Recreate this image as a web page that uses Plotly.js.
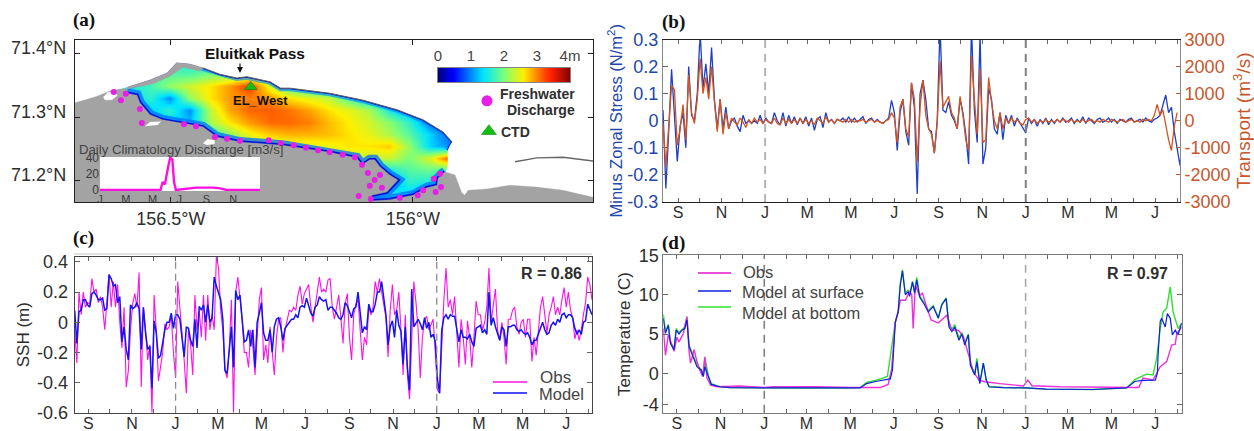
<!DOCTYPE html>
<html><head><meta charset="utf-8">
<script src="https://cdn.plot.ly/plotly-3.0.1.min.js"></script>
<style>html,body{margin:0;padding:0;background:#fff}#g{width:1254px;height:431px}</style>
</head><body><div id="g"></div>
<script>
// ---------- shared month ticks (days since first 1 January) ----------
const monthDays=[-122,-92,-61,-31,0,31,59,90,120,151,181,212,243,273,304,334,365,396,424,455,485,516,546,577];
const monthText=['S','','N','','J','','M','','M','','J','','S','','N','','J','','M','','M','','J',''];
const yearStarts=[0,365];

// ---------- panel (a): map ----------
const gridLon=[-156.585,-156.543,-156.502,-156.461,-156.419,-156.378,-156.337,-156.295,-156.254,-156.213,-156.172,-156.130,-156.089,-156.048,-156.006,-155.965,-155.924];
const gridLat=[71.160,71.179,71.198,71.217,71.236,71.255,71.274,71.293,71.312,71.330,71.349,71.368,71.387];
const depth=[
[1,1,1,1,1,1,1,1,1,1,1,1,.8,.9,.9,.6,.6],
[1,1,1,1,1,1,1,1,1,1,1,1,1,1.5,1.3,.7,.6],
[1,1,1,1,1,1,1,1,1,1,1,1,1,1,1.6,1.5,1],
[1.2,1.2,1.2,1.2,1.2,1.2,1.2,1.2,1.2,1.2,1.2,1.2,1.2,1.5,1.8,1.9,1.7],
[2,2,2,2,2,2,2,2,2.2,2.2,2.2,2.3,2.3,2.3,2,2.4,3.2],
[2,2,2,2,2,2,2.2,2.3,2.4,2.4,2.5,2.6,2.6,2.7,2.1,1.3,1],
[1.5,1.5,1.5,1.5,1.6,2.1,2.5,2.7,2.8,2.8,2.75,2.6,2.45,2.2,1.8,1.3,.8],
[1.2,1.2,1.4,1.2,2.2,2.6,2.9,3.1,3.1,3,2.75,2.55,2.35,2.05,1.6,.9,.8],
[1.2,1.3,1.6,1,2.3,2.85,3.1,3.15,3.05,2.85,2.6,2.45,2.2,1.5,1,.8,.8],
[1.4,1.6,1,2.1,2.6,2.9,3,2.9,2.6,2.45,2.3,1.8,1.2,1,1,1,1],
[1.5,1.7,2.1,2.35,2.6,2.9,3.3,2.4,1.8,1.5,1.3,1.2,1.2,1.2,1.2,1.2,1.2],
[1.5,1.7,1.8,1.8,2,2,2.2,1.8,1.5,1.2,1.2,1.2,1.2,1.2,1.2,1.2,1.2],
[1.5,1.5,1.5,1.5,1.5,1.5,1.5,1.2,1.2,1.2,1.2,1.2,1.2,1.2,1.2,1.2,1.2]];
const jet=[[0,'#00007f'],[.11,'#0000ff'],[.34,'#00e5ff'],[.5,'#7dff7a'],[.64,'#fff000'],[.75,'#ff8000'],[.85,'#ff2000'],[1,'#7f0000']];
const rampValues=[0,.25,.5,.75,1,1.25,1.5,1.75,2,2.25,2.5,2.75,3,3.25,3.5,3.75,4];
const rampRows=[0,1];
const rampTickText=['0','1','2','3','4m'];
const rampTickVals=[0,1,2,3,4];

const northLon=[-156.589,-156.543,-156.508,-156.488,-156.461,-156.434,-156.399,-156.364,-156.343,-156.295,-156.273,-156.254,-156.172,-156.103,-156.033,-155.979,-155.938,-155.919,-155.924,-155.928];
const northLat=[71.348,71.359,71.370,71.386,71.384,71.378,71.368,71.362,71.364,71.356,71.346,71.346,71.338,71.327,71.312,71.296,71.277,71.261,71.255,71.248];
const oceanEndLon=[-155.928,-155.932,-155.890,-155.628,-155.628,-156.698,-156.698];
const oceanEndLat=[71.225,71.213,71.170,71.166,71.422,71.422,71.323];
const southLon=[-156.591,-156.570,-156.564,-156.543,-156.517,-156.475,-156.434,-156.405,-156.357,-156.269,-156.172,-156.116,-156.105,-156.089,-156.079,-156.068,-156.048,-156.031,-156.054,-156.085,-156.089,-156.048,-156.000,-155.971,-155.950,-155.948,-155.938,-155.934];
const southLat=[71.338,71.335,71.323,71.304,71.296,71.291,71.285,71.269,71.261,71.256,71.245,71.236,71.225,71.233,71.233,71.222,71.209,71.201,71.182,71.177,71.168,71.170,71.177,71.189,71.193,71.204,71.212,71.214];
const westCoastLon=[-156.698,-156.657,-156.620,-156.591];
const westCoastLat=[71.323,71.332,71.343,71.346];
const eastCoastLon=[-155.913,-155.907,-155.899,-155.893,-155.886,-155.847,-155.800,-155.744,-155.690,-155.628,-155.628,-156.698];
const eastCoastLat=[71.209,71.196,71.181,71.177,71.185,71.187,71.193,71.190,71.185,71.174,71.166,71.166];
const spitLon=[-156.589,-156.543,-156.508,-156.488,-156.461,-156.434,-156.440,-156.475,-156.502,-156.537,-156.589];
const spitLat=[71.348,71.359,71.370,71.386,71.384,71.378,71.373,71.379,71.365,71.353,71.345];
const lakeLons=[[-156.640,-156.630,-156.614,-156.610,-156.622,-156.636],[-156.554,-156.543,-156.519,-156.527],[-156.434,-156.424,-156.409,-156.409,-156.424]];
const lakeLats=[[71.332,71.340,71.340,71.334,71.327,71.327],[71.286,71.293,71.294,71.288],[71.259,71.266,71.264,71.258,71.256]];
const islandLon=[-155.789,-155.744,-155.690,-155.628];
const islandLat=[71.230,71.236,71.237,71.231];
const dischargeLon=[-156.618,-156.603,-156.593,-156.564,-156.560,-156.473,-156.448,-156.409,-156.384,-156.357,-156.298,-156.273,-156.246,-156.221,-156.196,-156.172,-156.145,-156.120,-156.105,-156.093,-156.068,-156.079,-156.089,-156.064,-156.112,-156.087,-156.027,-155.990,-155.979,-155.953,-155.942,-155.957,-155.944];
const dischargeLat=[71.340,71.327,71.337,71.313,71.291,71.289,71.286,71.269,71.266,71.263,71.264,71.259,71.256,71.252,71.248,71.245,71.241,71.237,71.225,71.212,71.209,71.201,71.192,71.189,71.176,71.171,71.173,71.177,71.185,71.182,71.190,71.203,71.211];
const ctdLon=[-156.335], ctdLat=[71.348];
const keyDotLon=[-155.847], keyDotLat=[71.326];
const keyTriLon=[-155.843], keyTriLat=[71.278];

// inset: daily climatology discharge
const climDay=[0,138,143,148,156,160,165,169,173,190,220,259,274,289,365];
const climQ=[0,0,10,7,30,40,38,10,0,1,3,3,2,0,0];
const climTickDay=[0,59,120,181,243,304];
const climTickText=['J','M','M','J','S','N'];

// ---------- panel (b): sampled every 4 days from day -143 ----------
const bStart=-143,bStep=4;
const stress=[.04,-.25,-.04,.19,.02,-.15,-.02,.03,-.1,.2,.02,0,.1,.33,.12,.21,.1,.27,.08,-.03,.08,-.03,.05,-.03,0,.01,-.02,-.04,.02,-.01,0,-.01,0,-.01,.02,-.01,.01,-.005,-.01,.03,0,-.015,.03,-.02,.02,-.01,.015,-.015,.01,-.01,.015,-.02,.01,-.035,.005,.015,-.025,.03,-.005,.005,-.01,.005,0,.01,-.005,.015,-.005,.01,-.005,.005,.015,-.01,.005,.01,-.005,.005,-.005,-.01,0,.01,.075,.03,-.11,.03,.08,-.04,-.09,.14,.05,-.27,.1,.15,.08,-.03,-.04,-.12,0,.35,.04,.03,.07,.02,0,-.03,.08,.03,-.05,-.16,.35,.04,-.08,.32,-.16,-.1,.12,.08,-.03,-.05,.03,-.07,.02,-.01,.02,-.02,.01,-.01,-.03,-.045,.01,-.01,.005,-.02,.005,-.01,.01,-.015,.005,-.01,.005,-.005,.01,-.005,0,.01,-.01,.005,-.005,.015,-.01,.01,0,-.01,.005,.01,-.005,0,.01,-.005,.005,-.01,.005,0,-.005,.005,.01,-.005,0,.005,-.005,.01,0,-.005,.005,.01,.02,.06,.095,.03,.05,-.04,-.1,-.165,-.05,0];
const transport=[-100,-1700,-200,1300,1150,-900,-300,600,-700,1700,300,-100,800,2300,1000,1600,800,2000,700,-400,800,-500,300,-300,100,-50,-150,100,-50,-250,50,-100,100,-50,50,-100,50,-50,-100,100,-100,-150,100,-100,50,-100,50,-100,100,-100,50,-100,0,-150,100,0,-100,150,-50,50,-100,50,0,-50,50,-50,50,-50,0,0,50,-50,0,50,-50,0,-50,-100,0,50,300,100,-800,500,800,-300,-600,1400,800,-1500,500,1500,200,-300,-500,-1200,-100,2200,500,700,900,300,100,-300,900,200,-700,-1100,2400,800,-500,1900,-800,-700,1600,700,0,-300,300,-300,100,-100,100,-50,50,-100,-150,50,100,-50,50,-100,0,-50,50,-50,0,-50,50,-50,50,0,-50,50,-50,0,-50,50,-50,0,50,-50,0,-50,50,0,-50,50,0,-50,0,50,-50,0,50,-50,0,-50,50,0,50,0,200,600,200,400,-200,-700,-1100,-200,300];

// ---------- panel (c): sampled every 3 days from day -141 ----------
const cStart=-141,cStep=3;
const sshObs=[-.05,-.27,.2,.05,.2,.1,.13,.12,.29,.2,.22,.13,.17,.1,-.05,.12,.32,.1,.27,.1,.25,0,-.17,.1,-.43,-.32,-.05,.12,.19,.1,.33,-.43,.1,-.05,-.25,-.15,-.6,.18,-.05,-.39,-.3,-.2,-.01,-.05,-.03,.04,-.2,-.37,.27,.1,-.1,-.25,-.47,-.05,-.15,-.35,.18,-.05,.08,-.1,.18,-.12,.18,-.05,.05,-.05,.44,.36,.08,-.05,-.32,-.37,-.18,.15,-.6,.2,.3,.15,.02,-.2,-.2,-.3,-.05,-.16,-.35,-.1,.15,.23,-.25,-.15,-.27,-.03,-.2,-.35,-.1,.02,.03,-.2,-.05,.02,.08,.07,.1,.08,.18,.24,.12,.19,.22,.25,.1,0,.1,.2,.3,.2,.22,.2,.28,.29,.1,.02,.1,.18,.03,-.14,.12,.19,-.1,-.25,.05,.12,.15,-.05,-.25,-.1,-.15,.1,.05,.1,.27,.2,.29,.2,.12,.03,-.23,.08,.25,.05,.08,.2,-.05,-.35,.05,-.35,-.51,-.05,.27,.13,-.05,-.37,-.1,.02,.04,-.05,-.02,.02,-.2,-.45,-.47,-.1,.15,.36,.1,.15,.05,.17,-.05,-.3,.02,-.1,-.28,.01,-.1,-.3,-.1,.14,.05,.05,-.05,0,.1,.36,0,.1,.22,-.05,-.12,0,-.1,-.28,.02,.02,.08,.1,-.03,-.08,0,.02,-.1,.02,.02,-.26,-.1,-.22,-.05,.1,.17,.05,-.07,.05,.1,.17,.05,.1,.05,.15,.23,.1,.2,.08,.03,-.11,-.05,-.12,-.05,.05,.13,.3,.25,.15];
const sshModel=[.08,-.14,.07,.08,.15,.15,.115,.10,.19,.20,.18,.15,.15,.16,.08,.09,.315,.29,.24,.25,.13,.17,-.13,-.03,-.18,-.25,.115,.09,.10,.13,.09,-.18,.10,-.07,-.18,-.16,-.44,.01,-.07,-.24,-.22,-.12,-.05,0,0,.06,-.04,.05,.05,.02,-.1,-.23,-.03,-.04,-.12,-.16,.02,-.17,.105,.08,.115,0,.115,0,.03,.30,.24,.2,.15,.02,-.32,-.34,-.16,-.03,-.3,.21,.15,.18,.02,-.13,-.12,-.05,-.16,-.05,-.3,0,.06,.13,-.07,-.12,-.12,-.05,-.2,-.03,.02,.03,-.03,-.12,-.04,-.02,0,.02,.02,.05,.03,.10,.11,.10,.16,.115,.06,.04,.10,.115,.17,.15,.14,.15,.08,.10,.10,.08,.06,.03,.02,.05,.13,.11,.07,.03,.09,.10,.2,.04,-.07,-.03,-.05,.12,.07,.07,.12,.2,.2,.27,.17,.05,-.15,-.03,.01,-.1,.08,-.02,-.06,-.28,-.03,-.3,-.45,.22,-.03,0,.02,-.01,-.05,.03,-.04,0,-.1,-.08,-.13,-.38,-.47,-.05,.03,.05,.02,.05,.04,.04,-.05,-.13,-.05,-.1,-.1,-.11,-.08,-.13,-.16,-.04,-.03,-.02,-.07,-.05,-.08,.2,-.02,.03,-.03,-.08,-.12,-.03,-.05,-.16,-.03,-.03,-.02,-.02,-.05,-.06,-.05,-.07,-.08,-.07,-.1,-.15,-.12,-.12,-.08,-.03,0,-.05,-.08,-.07,-.02,0,-.02,.02,0,.05,.06,.03,.05,.05,.03,-.04,-.08,-.05,-.08,0,.01,.12,.08,.05];

// ---------- panel (d): read at turning points ----------
const surfDay=[-141,-138,-134,-131,-126,-123,-119,-115,-111,-108,-105,-99,-94,-88,-85,-83,-78,-74,-62,-48,0,50,120,134,143,157,176,179,183,187,190,193,197,201,203,207,210,213,217,224,229,236,243,248,254,258,262,266,272,276,280,285,288,294,297,301,306,310,314,334,366,394,459,506,518,529,546,549,550,553,555,560,563,567,570,574,578,583];
const surfT=[7,5.1,6.1,3.8,3,5.5,5,5.5,5.7,6.8,3.4,1.9,.85,.4,-.4,.85,-.4,-1.4,-1.7,-1.8,-1.85,-1.85,-1.85,-1.85,-1.3,-1,-.7,.4,6.5,7.8,11.2,13,10,10.4,9.8,11.6,10.2,11.9,9.7,8.7,7.8,8.5,7,8.7,9.5,5.9,5.3,5.9,4.2,5,3.6,4.9,1,-.2,1.5,-1.3,1.3,-.85,-1.7,-1.8,-1.85,-2,-2.05,-1.85,-1,-.9,-.85,0,2.3,6.6,7,5.9,7.6,7,4.9,5.5,4.9,6.4];
const botDay=[-141,-138,-134,-131,-126,-123,-119,-115,-111,-108,-105,-99,-94,-88,-85,-83,-78,-74,-62,-48,0,50,120,134,143,157,172,179,183,187,190,193,197,201,203,207,210,213,217,224,229,236,243,248,254,258,262,266,272,276,280,285,288,294,297,301,306,310,314,334,366,394,459,506,518,534,543,548,553,557,562,567,571,578,583];
const botT=[7.5,5.3,6.2,4,3.1,5.7,5.2,5.6,5.9,7.2,3.6,2.2,1.1,.5,-.2,2,-.3,-1.3,-1.7,-1.8,-1.85,-1.85,-1.85,-1.8,-1.15,-.85,-.4,4.2,6.5,7.9,11.5,13.2,10.2,10.6,10,11.7,10.4,12.2,9.9,8.9,8,8.6,7.1,8.8,9.6,6.2,5.6,6.2,4.5,5.2,3.9,5,1.1,0,1.9,-1.2,1.3,-.85,-1.7,-1.8,-1.85,-2,-2.05,-1.85,-.75,-.1,-.2,1.9,5.7,7.8,8.3,11,7.8,5.7,6.4];
const obsDay=[-141,-138,-134,-129,-126,-122,-119,-113,-108,-105,-103,-98,-94,-90,-86,-83,-80,-75,-66,-34,0,12,73,120,134,162,173,178,183,187,190,197,203,206,208,211,217,221,226,233,243,255,262,271,278,285,292,300,308,329,362,368,374,413,506,523,529,543,553,562,569,574,576,583];
const obsT=[5.7,2.3,4.9,3.6,2.8,4.6,4,5.1,7.2,2.8,1.3,3,1.5,.4,-.4,2.1,-.6,-1.5,-1.7,-1.6,-1.8,-1.7,-1.7,-1.8,-1.8,-1.8,-1.4,.6,6.5,7.8,9.3,9.3,10.4,10,5.7,11.2,9.9,10.2,8.7,6.8,6.4,7.4,5.5,5.5,4.7,2.3,.2,-.85,-1.06,-1.3,-1.6,-.85,-1.57,-1.7,-1.8,-1.8,-.6,-.85,.85,1.5,3.6,3.7,5,5.9];

// ---------- layout helpers (page pixels to layout fractions) ----------
const W=1254,H=431;
const dx=(l,r)=>[l/W,r/W], dy=(t,b)=>[1-b/H,1-t/H];
const px=x=>x/W, py=y=>1-y/H;
const seq=(s,st,n)=>Array.from({length:n},(_,i)=>s+i*st);
const TXT='Liberation Sans, Arial, sans-serif';
const grey='#444', ink='#2e2e2e', land='#a3a3a3';
const BLUE='#2247a8', ORANGE='#c9562b';

const traces=[];
const mapT=(o)=>traces.push(Object.assign({type:'scatter',mode:'lines',xaxis:'x',yaxis:'y',hoverinfo:'skip',showlegend:false},o));

traces.push({type:'heatmap',x:gridLon,y:gridLat,z:depth,zmin:0,zmax:4,zsmooth:'best',colorscale:jet,showscale:false,xaxis:'x',yaxis:'y',hoverinfo:'skip'});
// blue shallow edges under the land and ocean masks
mapT({x:northLon,y:northLat,line:{color:'rgba(0,130,255,.6)',width:6}});
mapT({x:southLon,y:southLat,line:{color:'rgba(0,110,255,.75)',width:10}});
mapT({x:northLon,y:northLat,line:{color:'#0018e0',width:2}});
mapT({x:southLon,y:southLat,line:{color:'#0010d8',width:3.5}});
// ocean and land masks
mapT({x:northLon.concat(oceanEndLon),y:northLat.concat(oceanEndLat),fill:'toself',fillcolor:'#fff',line:{color:'rgba(0,0,0,0)',width:0}});
mapT({x:westCoastLon.concat(southLon,eastCoastLon),y:westCoastLat.concat(southLat,eastCoastLat),fill:'toself',fillcolor:land,line:{color:land,width:.3}});
mapT({x:spitLon,y:spitLat,fill:'toself',fillcolor:land,line:{color:land,width:.5}});
mapT({x:northLon.slice(5,18),y:northLat.slice(5,18),line:{color:'#5a5a5a',width:1}});
lakeLons.forEach((l,i)=>mapT({x:l,y:lakeLats[i],fill:'toself',fillcolor:'#fff',line:{color:'#888',width:.3}}));
mapT({x:islandLon,y:islandLat,line:{color:'#666',width:1.4}});
mapT({x:dischargeLon,y:dischargeLat,mode:'markers',marker:{color:'#e61ee6',size:6,line:{width:0}}});
mapT({x:ctdLon,y:ctdLat,mode:'markers',marker:{symbol:'triangle-up',color:'#10c010',size:11,line:{width:.5,color:'#0a6a0a'}}});
mapT({x:keyDotLon,y:keyDotLat,mode:'markers',marker:{color:'#e61ee6',size:11,line:{width:0}}});
mapT({x:keyTriLon,y:keyTriLat,mode:'markers',marker:{symbol:'triangle-up',color:'#10c010',size:13,line:{width:.5,color:'#0a6a0a'}}});

// depth colour ramp
traces.push({type:'heatmap',x:rampValues,y:rampRows,z:[rampValues,rampValues],zmin:0,zmax:4,zsmooth:'best',colorscale:jet,showscale:false,xaxis:'x7',yaxis:'y7',hoverinfo:'skip'});

// inset
traces.push({type:'scatter',mode:'lines',x:[0,365,365,0],y:[-1.2,-1.2,41,41],fill:'toself',fillcolor:'#fff',line:{width:0},xaxis:'x5',yaxis:'y5',hoverinfo:'skip',showlegend:false});
traces.push({type:'scatter',mode:'lines',x:climDay,y:climQ,line:{color:'#ff10e0',width:2.4,shape:'linear'},xaxis:'x5',yaxis:'y5',hoverinfo:'skip',showlegend:false});

// panel b
traces.push({type:'scatter',mode:'lines',x:seq(bStart,bStep,stress.length),y:stress,line:{color:'#1f3fc4',width:1.3},xaxis:'x2',yaxis:'y2',name:'Minus Zonal Stress',showlegend:false});
traces.push({type:'scatter',mode:'lines',x:seq(bStart,bStep,transport.length),y:transport,line:{color:'#d5531d',width:1.3},xaxis:'x2',yaxis:'y6',name:'Transport',showlegend:false});
// panel c
traces.push({type:'scatter',mode:'lines',x:seq(cStart,cStep,sshObs.length),y:sshObs,line:{color:'#ff10e8',width:1.1},xaxis:'x3',yaxis:'y3',name:'Obs',showlegend:false});
traces.push({type:'scatter',mode:'lines',x:seq(cStart,cStep,sshModel.length),y:sshModel,line:{color:'#1414f0',width:1.5},xaxis:'x3',yaxis:'y3',name:'Model',showlegend:false});
// panel d
traces.push({type:'scatter',mode:'lines',x:botDay,y:botT,line:{color:'#30e030',width:1.4},xaxis:'x4',yaxis:'y4',name:'Model at bottom',showlegend:false});
traces.push({type:'scatter',mode:'lines',x:obsDay,y:obsT,line:{color:'#ee30dc',width:1.4},xaxis:'x4',yaxis:'y4',name:'Obs',showlegend:false});
traces.push({type:'scatter',mode:'lines',x:surfDay,y:surfT,line:{color:'#1020e0',width:1.2},xaxis:'x4',yaxis:'y4',name:'Model at surface',showlegend:false});

const monthAxis=(dom,anchor,range,lineCol)=>({domain:dom,anchor,range,tickmode:'array',tickvals:monthDays,ticktext:monthText,ticks:'inside',ticklen:4,tickcolor:'#666',tickwidth:1,mirror:'ticks',showline:true,linecolor:lineCol,linewidth:1,showgrid:false,zeroline:false,tickfont:{family:TXT,size:16,color:ink},ticklabelstandoff:-4,automargin:false});
const valAxis=(dom,anchor,range,vals,text,color,lineCol)=>({domain:dom,anchor,range,tickmode:'array',tickvals:vals,ticktext:text,ticks:'inside',ticklen:5,tickcolor:'#666',tickwidth:1,mirror:'ticks',showline:true,linecolor:lineCol,linewidth:1,showgrid:false,zeroline:false,tickfont:{family:TXT,size:18,color},automargin:false});

const layout={
 width:W,height:H,margin:{l:0,r:0,t:0,b:0},paper_bgcolor:'#fff',plot_bgcolor:'#fff',showlegend:false,
 // map
 xaxis:{domain:dx(75,593),anchor:'y',range:[-156.698,-155.628],tickmode:'array',tickvals:[-156.5,-156],ticktext:['156.5°W','156°W'],ticks:'inside',ticklen:5,tickcolor:'#222',mirror:'ticks',showline:true,linecolor:'#222',linewidth:1.2,showgrid:false,zeroline:false,tickfont:{family:TXT,size:18,color:ink}},
 yaxis:{domain:dy(40,202),anchor:'x',range:[71.1664,71.422],tickmode:'array',tickvals:[71.2,71.3,71.4],ticktext:['71.2°N','71.3°N','71.4°N'],ticks:'inside',ticklen:5,tickcolor:'#222',mirror:'ticks',showline:true,linecolor:'#222',linewidth:1.2,showgrid:false,zeroline:false,tickfont:{family:TXT,size:18,color:ink},ticklabelshift:-6,ticklabelstandoff:4},
 // colour ramp
 xaxis7:{domain:dx(438,570),anchor:'y7',side:'top',range:[0,4],tickmode:'array',tickvals:rampTickVals,ticktext:rampTickText,ticks:'',showline:true,mirror:true,linecolor:'#333',linewidth:.6,showgrid:false,zeroline:false,tickfont:{family:TXT,size:15,color:grey}},
 yaxis7:{domain:dy(68,82),anchor:'x7',range:[0,1],showticklabels:false,ticks:'',showline:true,mirror:true,linecolor:'#333',linewidth:.6,showgrid:false,zeroline:false},
 // inset
 xaxis5:{domain:dx(100,260),anchor:'y5',range:[0,365],tickmode:'array',tickvals:climTickDay,ticktext:climTickText,ticks:'',showline:false,showgrid:false,zeroline:false,tickfont:{family:TXT,size:11,color:'#3a3a3a'}},
 yaxis5:{domain:dy(157,191),anchor:'x5',range:[-1.2,41],tickmode:'array',tickvals:[0,20,40],ticktext:['0','20','40'],ticks:'',showline:false,showgrid:false,zeroline:false,tickfont:{family:TXT,size:12,color:'#3a3a3a'}},
 // b
 xaxis2:monthAxis(dx(663,1180),'y2',[-143,581],'#222'),
 yaxis2:Object.assign(valAxis(dy(39.5,202),'x2',[-.3,.3],[.3,.2,.1,0,-.1,-.2,-.3],['0.3','0.2','0.1','0','-0.1','-0.2','-0.3'],BLUE,'#888'),{title:{text:'Minus Zonal Stress (N/m<sup>2</sup>)',font:{family:TXT,size:16.5,color:BLUE},standoff:0},mirror:false}),
 yaxis6:{domain:dy(39.5,202),anchor:'x2',overlaying:'y2',side:'right',range:[-3000,3000],tickmode:'array',tickvals:[3000,2000,1000,0,-1000,-2000,-3000],ticktext:['3000','2000','1000','0','-1000','-2000','-3000'],ticks:'inside',ticklen:4,tickcolor:ORANGE,showline:true,linecolor:'#888',linewidth:1,showgrid:false,zeroline:false,tickfont:{family:TXT,size:18,color:ORANGE},title:{text:'Transport (m<sup>3</sup>/s)',font:{family:TXT,size:19,color:ORANGE},standoff:2}},
 // c
 xaxis3:monthAxis(dx(74.7,592),'y3',[-141,582],'#444'),
 yaxis3:Object.assign(valAxis(dy(256.7,412.7),'x3',[-.6,.435],[.4,.2,0,-.2,-.4,-.6],['0.4','0.2','0','-0.2','-0.4','-0.6'],ink,'#444'),{ticklabelstandoff:2,title:{text:'SSH (m)',font:{family:TXT,size:17,color:ink},standoff:3}}),
 // d
 xaxis4:monthAxis(dx(663.3,1181.7),'y4',[-141,583],'#777'),
 yaxis4:Object.assign(valAxis(dy(255.4,412.7),'x4',[-5,15],[15,10,5,0,-4],['15','10','5','0','-4'],ink,'#777'),{title:{text:'Temperature (C)',font:{family:TXT,size:17,color:ink},standoff:3}}),
 shapes:[
  ...yearStarts.map((d,i)=>({type:'line',xref:'x2',yref:'y2 domain',x0:d,x1:d,y0:0,y1:1,line:{color:i?'#808080':'#b4b4b4',width:2,dash:'8px 6px'}})),
  ...yearStarts.map(d=>({type:'line',xref:'x3',yref:'y3 domain',x0:d,x1:d,y0:0,y1:1,line:{color:'#8c8c8c',width:1.3,dash:'7px 5px'}})),
  ...yearStarts.map((d,i)=>({type:'line',xref:'x4',yref:'y4 domain',x0:d,x1:d,y0:0,y1:1,line:{color:i?'#a8a8a8':'#808080',width:1.6,dash:'8px 6px'}})),
  {type:'line',xref:'paper',yref:'paper',x0:px(74),x1:px(592),y0:py(254),y1:py(254),line:{color:'#c4c4c4',width:1}},
  // legend keys, panel c
  {type:'line',xref:'paper',yref:'paper',x0:px(493),x1:px(527),y0:py(382),y1:py(382),line:{color:'#ff10e8',width:1.4}},
  {type:'line',xref:'paper',yref:'paper',x0:px(493),x1:px(527),y0:py(393),y1:py(393),line:{color:'#4a4aff',width:1.8}},
  // legend keys, panel d
  {type:'line',xref:'paper',yref:'paper',x0:px(698),x1:px(731),y0:py(273),y1:py(273),line:{color:'#e850d8',width:2}},
  {type:'line',xref:'paper',yref:'paper',x0:px(698),x1:px(731),y0:py(291),y1:py(291),line:{color:'#1020e0',width:1.4}},
  {type:'line',xref:'paper',yref:'paper',x0:px(698),x1:px(731),y0:py(307),y1:py(307),line:{color:'#30e030',width:1.6}}
 ],
 annotations:[]
};
const note=(text,x,y,size,o={})=>layout.annotations.push(Object.assign({text,xref:'paper',yref:'paper',x:px(x),y:py(y),xanchor:'left',yanchor:'middle',showarrow:false,font:{family:TXT,size,color:ink}},o));
const serifBold={family:'Liberation Serif, serif',size:19,color:'#111'};
note('<b>(a)</b>',71,20,19,{font:serifBold});
note('<b>(b)</b>',660,22,19,{font:serifBold});
note('<b>(c)</b>',71,238,19,{font:serifBold});
note('<b>(d)</b>',660,243,19,{font:serifBold});
note('<b>Eluitkak Pass</b>',255,53,15.5,{xanchor:'center',font:{family:TXT,size:15.5,color:'#111'}});
note('<b>EL_West</b>',260,100,13,{xanchor:'center',font:{family:TXT,size:13,color:'#111'}});
note('<b>Freshwater</b>',498,94,14,{});
note('<b>Discharge</b>',505,110,14,{});
note('<b>CTD</b>',499,132,14,{});
note('Daily Climatology Discharge [m3/s]',77,149,13.2,{font:{family:TXT,size:13.2,color:'#444'}});
note('<b>R = 0.86</b>',519,273,16);
note('Obs',538,377,17,{font:{family:TXT,size:17,color:'#444'}});
note('Model',537,394,16.5,{font:{family:TXT,size:16.5,color:'#444'}});
note('<b>R = 0.97</b>',1105,273,16);
note('Obs',741,272,16.5,{font:{family:TXT,size:16.5,color:'#444'}});
note('Model at surface',740,292,16.5,{font:{family:TXT,size:16.5,color:'#444'}});
note('Model at bottom',740,313,16.5,{font:{family:TXT,size:16.5,color:'#444'}});
// arrow to the pass
layout.annotations.push({xref:'paper',yref:'paper',axref:'paper',ayref:'paper',x:px(240),y:py(73),ax:px(240),ay:py(62),showarrow:true,arrowhead:2,arrowsize:1,arrowwidth:1.2,arrowcolor:'#111',text:''});

Plotly.newPlot('g',traces,layout,{staticPlot:true,displayModeBar:false});
</script></body></html>
